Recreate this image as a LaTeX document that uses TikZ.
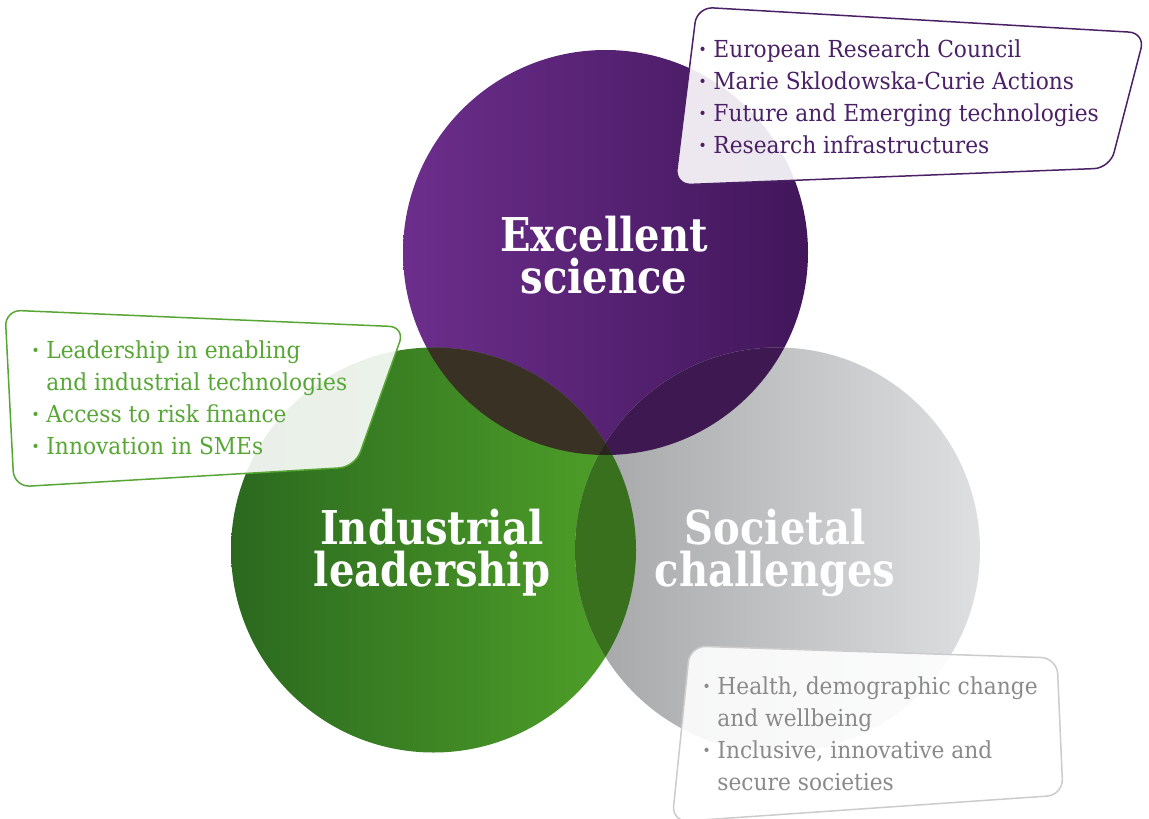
\documentclass[tikz,border=0pt]{standalone}
\usepackage{fontspec}
\newfontfamily\slab[FakeStretch=0.86]{DejaVu Serif}
\newfontfamily\slabtext[FakeStretch=0.93]{DejaVu Serif}
\usetikzlibrary{positioning}
\definecolor{sciL}{HTML}{6C2E8C}
\definecolor{sciR}{HTML}{41165A}
\definecolor{indL}{HTML}{2B691F}
\definecolor{indR}{HTML}{50A229}
\definecolor{socL}{HTML}{A4A5A7}
\definecolor{socR}{HTML}{DEDFE0}
\definecolor{sciind}{HTML}{3A3125}
\definecolor{scisoc}{HTML}{3D1851}
\definecolor{indsoc}{HTML}{38701D}
\definecolor{allthree}{HTML}{2B2520}
\definecolor{sciink}{HTML}{4B2165}
\definecolor{indink}{HTML}{58A636}
\definecolor{socink}{HTML}{8A8A8A}
\definecolor{socline}{HTML}{CCCCCC}
\newcommand{\bul}{\llap{\textbf{·}\hspace{0.3em}}}

\begin{document}
\begin{tikzpicture}[x=0.5pt,y=-0.5pt,
  pillar/.style={text=white,align=center,inner sep=0pt,
    font=\slab\bfseries\fontsize{23.3}{21}\selectfont},
  items/.style={align=left,inner sep=0pt,anchor=base west,
    font=\slabtext\fontsize{11.7}{16}\selectfont},
  callout/.style={line width=0.75pt,fill=white,fill opacity=0.9,rounded corners=8pt}]
\useasboundingbox (0,0) rectangle (1149,818);
% the three pillars
\shade[left color=sciL,right color=sciR] (605.5,252.5) circle (202.5);
\shade[left color=indL,right color=indR] (433.5,550) circle (202.5);
\shade[left color=socL,right color=socR] (777.5,550) circle (202.5);
% overlaps
\begin{scope}
\clip (605.5,252.5) circle (202.5);
\fill[sciind] (433.5,550) circle (202.5);
\fill[scisoc] (777.5,550) circle (202.5);
\end{scope}
\begin{scope}
\clip (433.5,550) circle (202.5);
\fill[indsoc] (777.5,550) circle (202.5);
\clip (605.5,252.5) circle (202.5);
\fill[allthree] (777.5,550) circle (202.5);
\end{scope}
\node[pillar] (sci) at (604,255) {Excellent\\science};
\node[pillar] (ind) at (432,553) {Industrial\\leadership};
\node[pillar] (soc) at (775,553) {Societal\\challenges};
% call-outs
\draw[callout,draw=sciink] (697,7) -- (1145,33) -- (1110,168) -- (675,185) -- cycle;
\draw[callout,draw=indink] (5,310) -- (405,327) -- (355,467) -- (14,487) -- cycle;
\draw[callout,draw=socline] (690,646) -- (1057,658) -- (1063,795) -- (672,822) -- cycle;
% lists (base = last line)
\node[items,text=sciink] (scilist) at (713,154) {\bul European Research Council\\
  \bul Marie Sklodowska-Curie Actions\\
  \bul Future and Emerging technologies\\
  \bul Research infrastructures};
\node[items,text=indink] (indlist) at (46,454) {\bul Leadership in enabling\\
  and industrial technologies\\
  \bul Access to risk finance\\
  \bul Innovation in SMEs};
\node[items,text=socink] (soclist) at (717,790) {\bul Health, demographic change\\
  and wellbeing\\
  \bul Inclusive, innovative and\\
  secure societies};
\end{tikzpicture}
\end{document}
